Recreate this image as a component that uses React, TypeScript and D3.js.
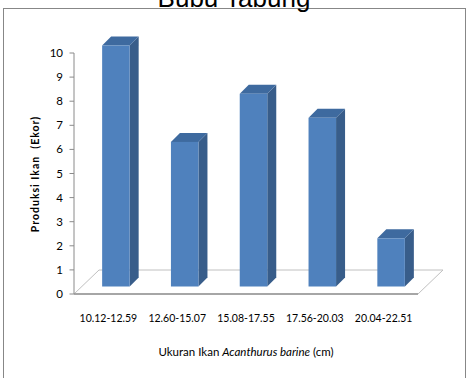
import React, { useEffect } from 'react';
import * as d3 from 'd3';

const title = 'Bubu Tabung';
const categories = ['10.12-12.59', '12.60-15.07', '15.08-17.55', '17.56-20.03', '20.04-22.51'];
const values = [10, 6, 8, 7, 2];
const yTicks = [0, 1, 2, 3, 4, 5, 6, 7, 8, 9, 10];
const yTitle = 'Produksi Ikan  (Ekor)';
const xTitleStart = 'Ukuran Ikan ';
const xTitleItalic = 'Acanthurus barine';
const xTitleEnd = ' (cm)';

const W = 469;
const H = 378;
const FONT = 'Lato, "Open Sans", sans-serif';

export default function App() {
  useEffect(() => {
    document.body.style.margin = '0';
  }, []);

  const x = d3.scaleBand<string>().domain(categories).range([74, 418]).padding(0);
  const y = d3.scaleLinear().domain([0, 10]).range([294, 53]);
  const bw = x.bandwidth();
  const barW = bw * 0.4;
  const floorDx = 25;
  const floorDy = 24;
  const barOff = 7.5;
  const barDepth = 9;

  const base = y(0);
  const floorPts = [
    [74, base],
    [418, base],
    [418 + floorDx, base - floorDy],
    [74 + floorDx, base - floorDy],
  ];

  return (
    <svg width={W} height={H} style={{ display: 'block', background: '#fff' }}>
      <rect x={3.5} y={8.5} width={462} height={400} fill="#fff" stroke="#878787" strokeWidth={1} />
      <text x={234} y={7} textAnchor="middle" fontFamily='"Liberation Sans", Arial, sans-serif' fontSize={26} fill="#000">
        {title}
      </text>

      <polygon points={floorPts.map((p) => p.join(',')).join(' ')} fill="#fff" stroke="#c0c0c0" strokeWidth={1} />
      <line x1={74} x2={418} y1={base} y2={base} stroke="#a6a6a6" strokeWidth={2} />

      <line x1={74} x2={74} y1={y(0)} y2={y(10)} stroke="#8a8a8a" strokeWidth={1} />
      {yTicks.map((t) => (
        <g key={t}>
          <line x1={69.5} x2={74} y1={y(t)} y2={y(t)} stroke="#8a8a8a" strokeWidth={1} />
          <text x={63} y={y(t)} dy="0.35em" textAnchor="end" fontFamily={FONT} fontSize={11.5} fill="#000">
            {t}
          </text>
        </g>
      ))}

      {categories.map((c, i) => {
        const cx = (x(c) as number) + bw / 2 + barOff;
        const l = cx - barW / 2;
        const r = cx + barW / 2;
        const b = base - barOff;
        const tp = y(values[i]) - barOff;
        const d = barDepth;
        return (
          <g key={c}>
            <polygon points={`${r},${tp} ${r + d},${tp - d} ${r + d},${b - d} ${r},${b}`} fill="#385d8a" />
            <polygon points={`${l},${tp} ${l + d},${tp - d} ${r + d},${tp - d} ${r},${tp}`} fill="#3e6a9f" />
            <rect x={l} y={tp} width={barW} height={b - tp} fill="#4f81bd" />
          </g>
        );
      })}

      {categories.map((c) => (
        <text key={c} x={(x(c) as number) + bw / 2} y={322} textAnchor="middle" fontFamily={FONT} fontSize={10.5} fill="#000">
          {c}
        </text>
      ))}

      <text x={246} y={356} textAnchor="middle" fontFamily={FONT} fontSize={11.5} fill="#000">
        {xTitleStart}
        <tspan fontStyle="italic">{xTitleItalic}</tspan>
        {xTitleEnd}
      </text>
      <text
        transform={`translate(39,174) rotate(-90)`}
        textAnchor="middle"
        fontFamily={FONT}
        fontWeight="bold"
        fontSize={10.5}
        letterSpacing={1}
        fill="#000"
        style={{ whiteSpace: 'pre' }}
      >
        {yTitle}
      </text>
    </svg>
  );
}
